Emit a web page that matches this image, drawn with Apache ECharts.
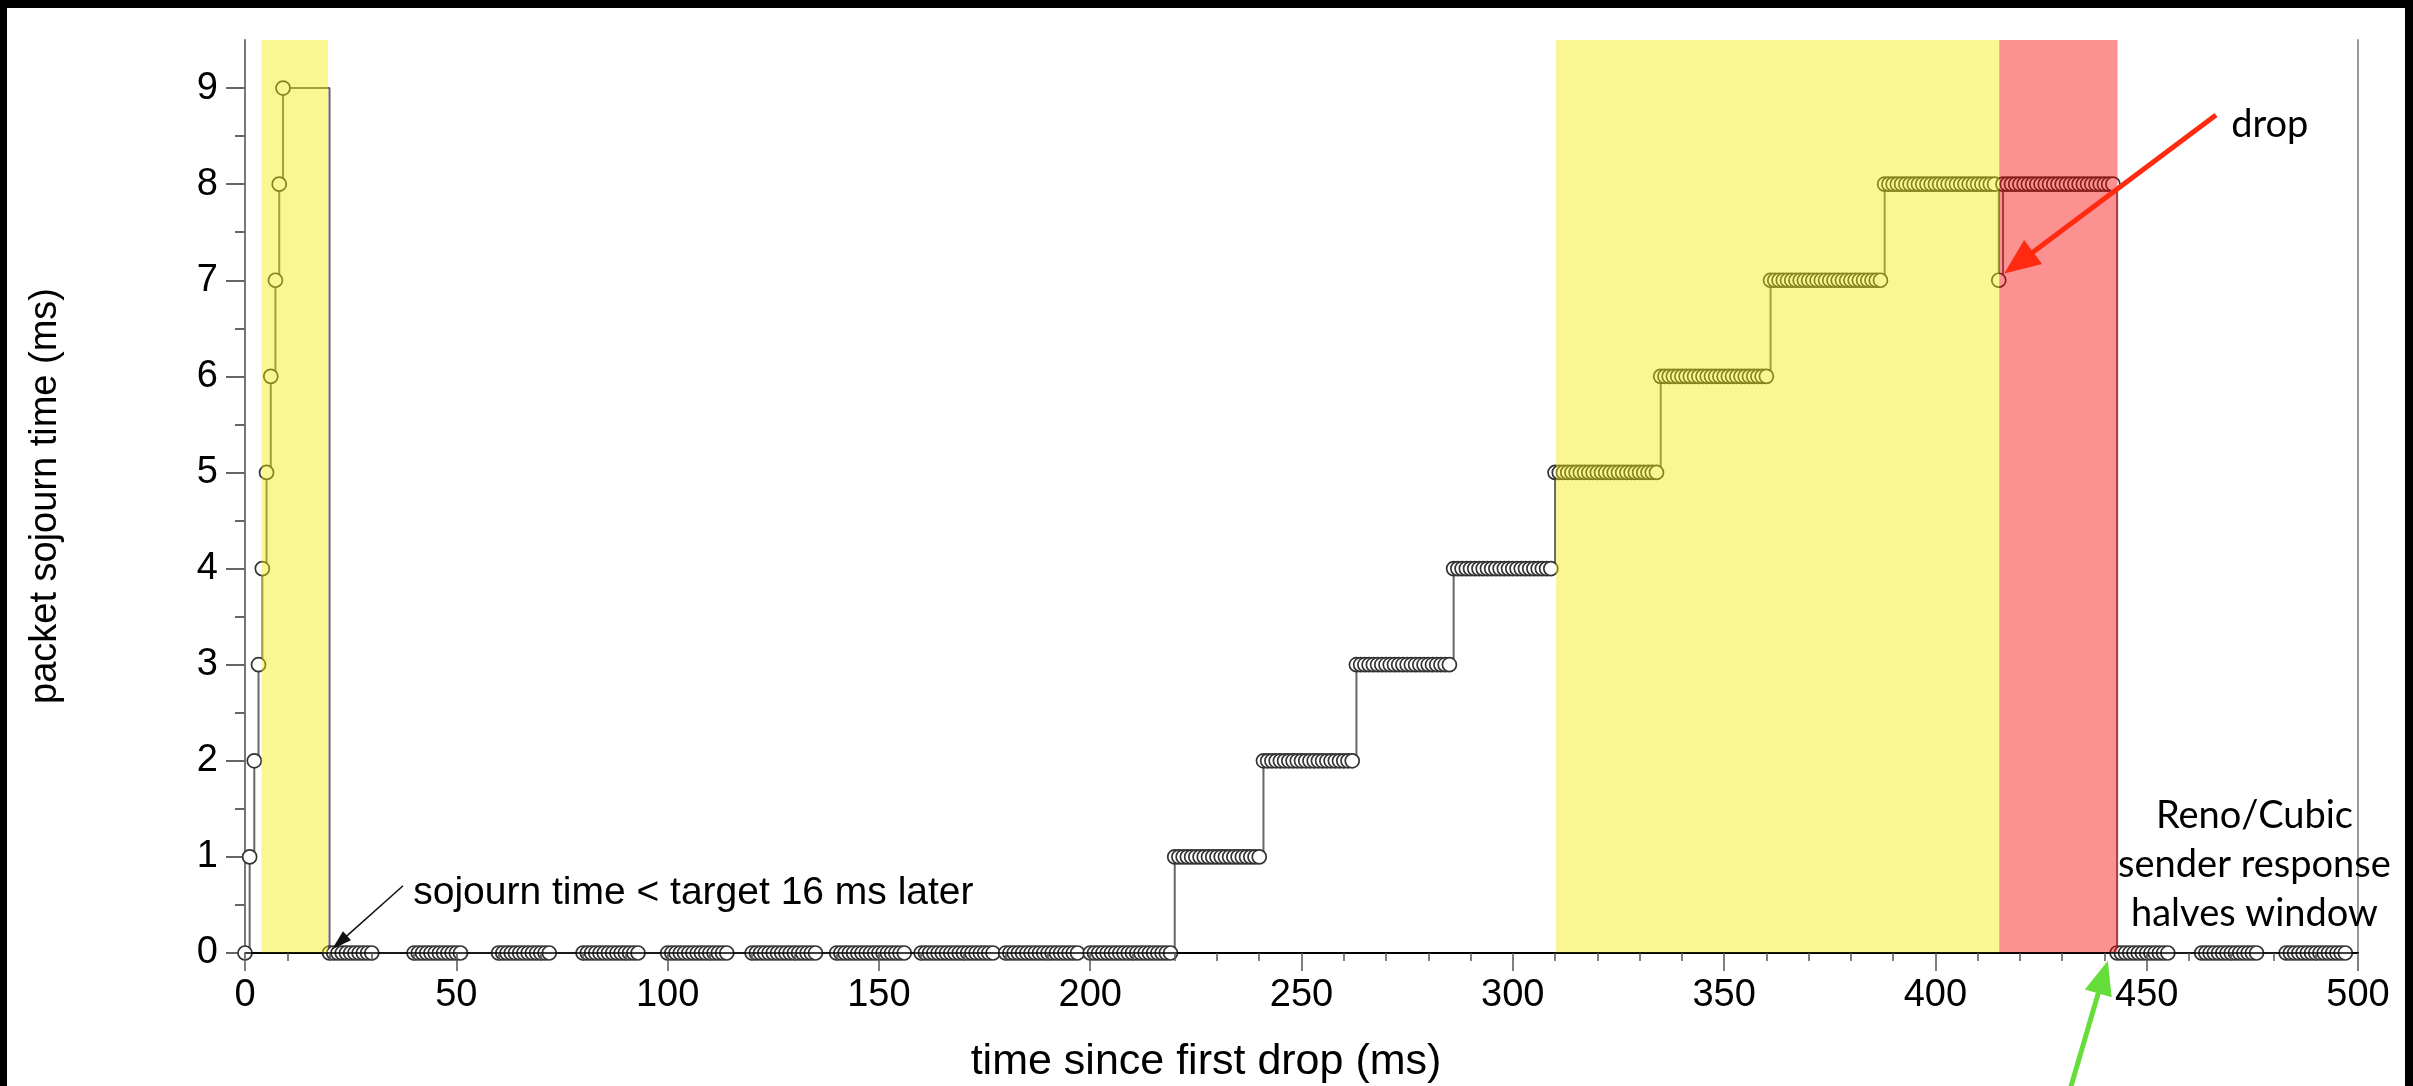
<!DOCTYPE html>
<html><head><meta charset="utf-8">
<script src="https://cdn.jsdelivr.net/npm/echarts@6/dist/echarts.min.js"></script>
<style>html,body{margin:0;padding:0;background:#fff;overflow:hidden}#c{width:2413px;height:1086px}</style>
</head><body><div id="c"></div>
<script>
// ---- data (time in ms, sojourn in ms) ----
const riseTimes  = [0, 1.1, 2.2, 3.2, 4.1, 5.1, 6.1, 7.2, 8.1, 9.0];
const riseValues = [0, 1, 2, 3, 4, 5, 6, 7, 8, 9];

const runTimes = [
  [20,21,22,23,24,25,26,27,28,29,30],
  [40,41,42,43,44,45,46,47,48,49,50,51],
  [60,61,62,63,64,65,66,67,68,69,70,71,72],
  [80,81,82,83,84,85,86,87,88,89,90,91,92,93],
  [100,101,102,103,104,105,106,107,108,109,110,111,112,113,114],
  [120,121,122,123,124,125,126,127,128,129,130,131,132,133,134,135],
  [140,141,142,143,144,145,146,147,148,149,150,151,152,153,154,155,156],
  [160,161,162,163,164,165,166,167,168,169,170,171,172,173,174,175,176,177],
  [180,181,182,183,184,185,186,187,188,189,190,191,192,193,194,195,196,197],
  [200,201,202,203,204,205,206,207,208,209,210,211,212,213,214,215,216,217,218,219],
  [220,221,222,223,224,225,226,227,228,229,230,231,232,233,234,235,236,237,238,239,240],
  [241,242,243,244,245,246,247,248,249,250,251,252,253,254,255,256,257,258,259,260,261,262],
  [263,264,265,266,267,268,269,270,271,272,273,274,275,276,277,278,279,280,281,282,283,284,285],
  [286,287,288,289,290,291,292,293,294,295,296,297,298,299,300,301,302,303,304,305,306,307,308,309],
  [310,311,312,313,314,315,316,317,318,319,320,321,322,323,324,325,326,327,328,329,330,331,332,333,334],
  [335,336,337,338,339,340,341,342,343,344,345,346,347,348,349,350,351,352,353,354,355,356,357,358,359,360],
  [361,362,363,364,365,366,367,368,369,370,371,372,373,374,375,376,377,378,379,380,381,382,383,384,385,386,387],
  [388,389,390,391,392,393,394,395,396,397,398,399,400,401,402,403,404,405,406,407,408,409,410,411,412,413,414],
  [415],
  [416,417,418,419,420,421,422,423,424,425,426,427,428,429,430,431,432,433,434,435,436,437,438,439,440,441,442],
  [443,444,445,446,447,448,449,450,451,452,453,454,455],
  [463,464,465,466,467,468,469,470,471,472,473,474,475,476],
  [483,484,485,486,487,488,489,490,491,492,493,494,495,496,497]
];
const runValues = [0,0,0,0,0,0,0,0,0,0, 1,2,3,4,5,6,7,8, 7, 8, 0,0,0];

// shaded time windows (ms)
const bandStart  = [3.9, 310.2, 415.1];
const bandEnd    = [19.6, 415.1, 443.1];
const bandColors = ['rgba(243,234,0,0.43)', 'rgba(243,234,0,0.43)', 'rgba(248,0,0,0.43)'];

// axis ticks
const yMajorTicks = [0,1,2,3,4,5,6,7,8,9];
const yMinorTicks = [0.5,1.5,2.5,3.5,4.5,5.5,6.5,7.5,8.5];
const xMin = 0, xMax = 500, xInterval = 50;
const yMin = 0, yMax = 9.5;

// annotation anchors in data space [t, v]
const blackArrow = {from: [37.4, 0.70], to: [20.6, 0.04]};
const blackText  = {at: [39.8, 0.62], text: 'sojourn time < target 16 ms later'};
const redArrow   = {from: [466.4, 8.72], to: [416.3, 7.07]};
const dropText   = {at: [470.0, 8.62], text: 'drop'};
const greenArrow = {from: [432.0, -1.40], to: [440.8, -0.08]};
const renoText   = {at: [475.5, 0.92], lines: ['Reno/Cubic', 'sender response', 'halves window']};

// ---- build series data ----
const seriesData = [];
riseTimes.forEach((t, i) => seriesData.push([t, riseValues[i]]));
runTimes.forEach((ts, i) => ts.forEach(t => seriesData.push([t, runValues[i]])));
const bandData = bandStart.map((s, i) => [s, bandEnd[i]]);

const FONT = '"Liberation Sans", Arial, Helvetica, sans-serif';
const chart = echarts.init(document.getElementById('c'));
chart.setOption({
  backgroundColor: '#fff',
  animation: false,
  grid: {left: 245, right: 55, top: 40, bottom: 133},
  xAxis: [
    {type: 'value', min: xMin, max: xMax, interval: xInterval, position: 'bottom', z: 10,
     axisLine: {show: true, lineStyle: {color: '#000', width: 1.5}},
     axisTick: {show: true, length: 18, lineStyle: {color: '#555', width: 1.5}},
     minorTick: {show: true, splitNumber: 5, length: 8, lineStyle: {color: '#555', width: 1.5}},
     axisLabel: {fontSize: 38, color: '#000', margin: 24, fontFamily: FONT},
     splitLine: {show: false}},
    {type: 'value', min: xMin, max: xMax, position: 'top',
     axisLine: {show: true, lineStyle: {color: '#000', width: 2}},
     axisTick: {show: false}, axisLabel: {show: false}, splitLine: {show: false}}
  ],
  yAxis: [
    {type: 'value', min: yMin, max: yMax, position: 'left',
     axisLine: {show: true, lineStyle: {color: '#777', width: 2}},
     axisTick: {show: true, length: 19, customValues: yMajorTicks, lineStyle: {color: '#666', width: 2}},
     axisLabel: {customValues: yMajorTicks, fontSize: 38, color: '#000', margin: 27, fontFamily: FONT},
     splitLine: {show: false}},
    {type: 'value', min: yMin, max: yMax, position: 'left',
     axisLine: {show: false},
     axisTick: {show: true, length: 10, customValues: yMinorTicks, lineStyle: {color: '#666', width: 2}},
     axisLabel: {show: false}, splitLine: {show: false}},
    {type: 'value', min: yMin, max: yMax, position: 'right',
     axisLine: {show: true, lineStyle: {color: '#999', width: 2}},
     axisTick: {show: false}, axisLabel: {show: false}, splitLine: {show: false}}
  ],
  series: [
    {type: 'line', data: seriesData, step: 'end', xAxisIndex: 0, yAxisIndex: 0,
     symbol: 'circle', symbolSize: 14, showAllSymbol: true, clip: false, silent: true, z: 2,
     itemStyle: {color: '#fff', borderColor: '#333', borderWidth: 1.7},
     lineStyle: {color: '#666', width: 2}},
    {type: 'custom', data: bandData, xAxisIndex: 0, yAxisIndex: 0, silent: true, z: 5,
     encode: {x: [0, 1]},
     renderItem: function (params, api) {
       const p0 = api.coord([api.value(0), yMax]);
       const p1 = api.coord([api.value(1), yMin]);
       return {type: 'rect', shape: {x: p0[0], y: p0[1], width: p1[0] - p0[0], height: p1[1] - p0[1]},
               style: {fill: bandColors[params.dataIndex]}};
     }}
  ]
});

// ---- annotations placed through the chart's own scales ----
const px = d => chart.convertToPixel({gridIndex: 0}, d);
function arrow(a, color, width, headLen, headHalf) {
  const p = px(a.from), q = px(a.to);
  const dx = q[0] - p[0], dy = q[1] - p[1], L = Math.hypot(dx, dy);
  const ux = dx / L, uy = dy / L;
  const bx = q[0] - ux * headLen, by = q[1] - uy * headLen;
  return [
    {type: 'line', z: 100, shape: {x1: p[0], y1: p[1], x2: bx + ux * 2, y2: by + uy * 2},
     style: {stroke: color, lineWidth: width}},
    {type: 'polygon', z: 100, shape: {points: [[q[0], q[1]], [bx - uy * headHalf, by + ux * headHalf], [bx + uy * headHalf, by - ux * headHalf]]},
     style: {fill: color}}
  ];
}
const g = [];
g.push({type: 'rect', z: 200, shape: {x: 0, y: 0, width: 7, height: 1086}, style: {fill: '#000'}});
g.push({type: 'rect', z: 200, shape: {x: 0, y: 0, width: 2413, height: 8}, style: {fill: '#000'}});
g.push({type: 'rect', z: 200, shape: {x: 2405, y: 0, width: 8, height: 1086}, style: {fill: '#000'}});
g.push(...arrow(blackArrow, '#111', 1.5, 20, 6));
g.push(...arrow(redArrow, '#ff2a10', 5, 36, 15));
g.push(...arrow(greenArrow, '#66dd3a', 5, 34, 14));
const bt = px(blackText.at);
g.push({type: 'text', z: 100, x: bt[0], y: bt[1], style: {text: blackText.text, fontSize: 39, fontFamily: FONT, fill: '#000', align: 'left', verticalAlign: 'middle'}});
const dt = px(dropText.at);
g.push({type: 'text', z: 100, x: dt[0], y: dt[1], style: {text: dropText.text, fontSize: 38, fontFamily: 'Lato, sans-serif', fill: '#000', align: 'left', verticalAlign: 'middle'}});
const rt = px(renoText.at);
g.push({type: 'text', z: 100, x: rt[0], y: rt[1], style: {text: renoText.lines.join('\n'), fontSize: 38, lineHeight: 49, fontFamily: 'Lato, sans-serif', fill: '#000', align: 'center', verticalAlign: 'middle'}});
g.push({type: 'text', z: 100, x: 46, y: 496, rotation: Math.PI / 2, style: {text: 'packet sojourn time (ms)', fontSize: 38, fontFamily: FONT, fill: '#000', align: 'center', verticalAlign: 'middle'}});
g.push({type: 'text', z: 100, x: 1206, y: 1062, style: {text: 'time since first drop (ms)', fontSize: 43, fontFamily: FONT, fill: '#000', align: 'center', verticalAlign: 'middle'}});
chart.setOption({graphic: {elements: g}});
</script></body></html>
